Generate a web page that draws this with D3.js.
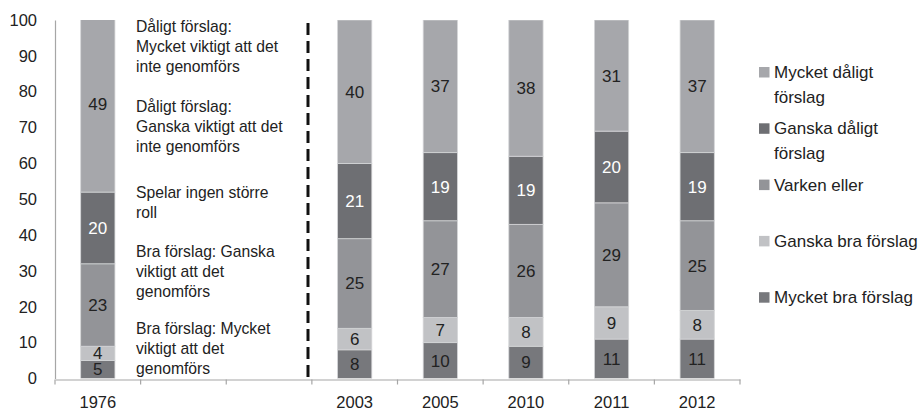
<!DOCTYPE html>
<html>
<head>
<meta charset="utf-8">
<script src="https://cdn.jsdelivr.net/npm/d3@7"></script>
<style>
  html, body { margin: 0; padding: 0; background: #fff; }
  svg { display: block; font-family: "Liberation Sans", Arial, sans-serif; }
</style>
</head>
<body>
<svg id="chart" width="924" height="413"></svg>
<script>
// ---- data ----
const categories = ["1976", "", "", "2003", "2005", "2010", "2011", "2012"];
const seriesNames = ["Mycket bra förslag", "Ganska bra förslag", "Varken eller", "Ganska dåligt förslag", "Mycket dåligt förslag"];
const mycketBra    = [5, null, null, 8, 10, 9, 11, 11];
const ganskaBra    = [4, null, null, 6, 7, 8, 9, 8];
const varkenEller  = [23, null, null, 25, 27, 26, 29, 25];
const ganskaDaligt = [20, null, null, 21, 19, 19, 20, 19];
const mycketDaligt = [49, null, null, 40, 37, 38, 31, 37];
const yTicks = [0, 10, 20, 30, 40, 50, 60, 70, 80, 90, 100];
const legendLabels = [["Mycket dåligt", "förslag"], ["Ganska dåligt", "förslag"], ["Varken eller"], ["Ganska bra förslag"], ["Mycket bra förslag"]];
const annotations = [
  ["Dåligt förslag:", "Mycket viktigt att det", "inte genomförs"],
  ["Dåligt förslag:", "Ganska viktigt att det", "inte genomförs"],
  ["Spelar ingen större", "roll"],
  ["Bra förslag: Ganska", "viktigt att det", "genomförs"],
  ["Bra förslag: Mycket", "viktigt att det", "genomförs"]
];

// ---- styles ----
const colors = ["#77787c", "#c1c2c5", "#939498", "#6e6f73", "#a6a7ab"];
const labelColors = ["#222", "#222", "#222", "#fff", "#222"];
const legendColors = ["#a6a7ab", "#6e6f73", "#939498", "#c1c2c5", "#77787c"];

const svg = d3.select("#chart");
const mLeft = 55, mRight = 740, mTop = 20, mBottom = 378.5;

const x = d3.scaleBand().domain(d3.range(categories.length)).range([mLeft, mRight]).paddingInner(0.6).paddingOuter(0.3);
const xAxisScale = d3.scaleBand().domain(d3.range(categories.length)).range([mLeft, mRight]);
const y = d3.scaleLinear().domain([0, 100]).range([mBottom, mTop]);

// clip
svg.append("defs").append("clipPath").attr("id", "plotclip")
  .append("rect").attr("x", mLeft).attr("y", y(100)).attr("width", mRight - mLeft).attr("height", y(0) - y(100));

// stacked data
const seriesValues = [mycketBra, ganskaBra, varkenEller, ganskaDaligt, mycketDaligt];
const rows = categories.map((c, i) => {
  const r = { idx: i };
  seriesValues.forEach((s, k) => r["s" + k] = s[i] == null ? 0 : s[i]);
  return r;
});
const stack = d3.stack().keys(seriesValues.map((s, k) => "s" + k));
const stacked = stack(rows);

const barsG = svg.append("g").attr("clip-path", "url(#plotclip)");
stacked.forEach((layer, k) => {
  barsG.selectAll(null).data(layer.filter(d => seriesValues[k][d.data.idx] != null))
    .enter().append("rect")
    .attr("x", d => x(d.data.idx))
    .attr("width", x.bandwidth())
    .attr("y", d => y(d[1]))
    .attr("height", d => y(d[0]) - y(d[1]))
    .attr("fill", colors[k])
    .attr("stroke", "#d4d5d7")
    .attr("stroke-width", 0.8);
});

// labels
stacked.forEach((layer, k) => {
  svg.selectAll(null).data(layer.filter(d => seriesValues[k][d.data.idx] != null))
    .enter().append("text")
    .attr("x", d => x(d.data.idx) + x.bandwidth() / 2)
    .attr("y", d => y((d[0] + d[1]) / 2))
    .attr("dy", "0.35em")
    .attr("text-anchor", "middle")
    .attr("font-size", 17)
    .attr("fill", labelColors[k])
    .text(d => seriesValues[k][d.data.idx]);
});

// y axis
const yAxis = d3.axisLeft(y).tickValues(yTicks).tickSize(0).tickPadding(18);
const yg = svg.append("g").attr("transform", `translate(${mLeft},0)`).call(yAxis);
yg.select(".domain").attr("stroke", "#a6a6a6").attr("stroke-width", 1.2);
yg.selectAll("text").attr("font-size", 16.5).attr("fill", "#222").attr("font-family", "Liberation Sans, Arial, sans-serif");

// x axis
const xAxis = d3.axisBottom(xAxisScale).tickFormat(i => categories[i]).tickSize(0).tickPadding(17);
const xg = svg.append("g").attr("transform", `translate(0,${mBottom + 1})`).call(xAxis);
xg.select(".domain").attr("stroke", "#a6a6a6").attr("stroke-width", 1.2);
xg.selectAll("text").attr("font-size", 16.5).attr("fill", "#222").attr("font-family", "Liberation Sans, Arial, sans-serif");
// boundary tick marks
xg.selectAll(null).data(d3.range(categories.length + 1)).enter().append("line")
  .attr("x1", i => mLeft + i * xAxisScale.step()).attr("x2", i => mLeft + i * xAxisScale.step())
  .attr("y1", 0).attr("y2", 5).attr("stroke", "#a6a6a6").attr("stroke-width", 1.2);

// dashed separator
svg.append("line")
  .attr("x1", 308).attr("x2", 308).attr("y1", 23).attr("y2", 377)
  .attr("stroke", "#111").attr("stroke-width", 3).attr("stroke-dasharray", "12,6");

// annotations
const annStarts = [27, 107, 193, 252, 329];
annotations.forEach((lines, g) => {
  lines.forEach((t, j) => {
    svg.append("text")
      .attr("x", 136).attr("y", annStarts[g] + j * 19.8)
      .attr("dy", "0.35em")
      .attr("font-size", 15.7).attr("fill", "#222")
      .text(t);
  });
});

// legend
legendLabels.forEach((lines, i) => {
  const cy = 72 + i * 56.3;
  svg.append("rect").attr("x", 759).attr("y", cy - 5).attr("width", 10.5).attr("height", 10.5).attr("fill", legendColors[i]);
  lines.forEach((t, j) => {
    svg.append("text").attr("x", 774).attr("y", cy + j * 25).attr("dy", "0.35em")
      .attr("font-size", 17).attr("fill", "#222").text(t);
  });
});
</script>
</body>
</html>
